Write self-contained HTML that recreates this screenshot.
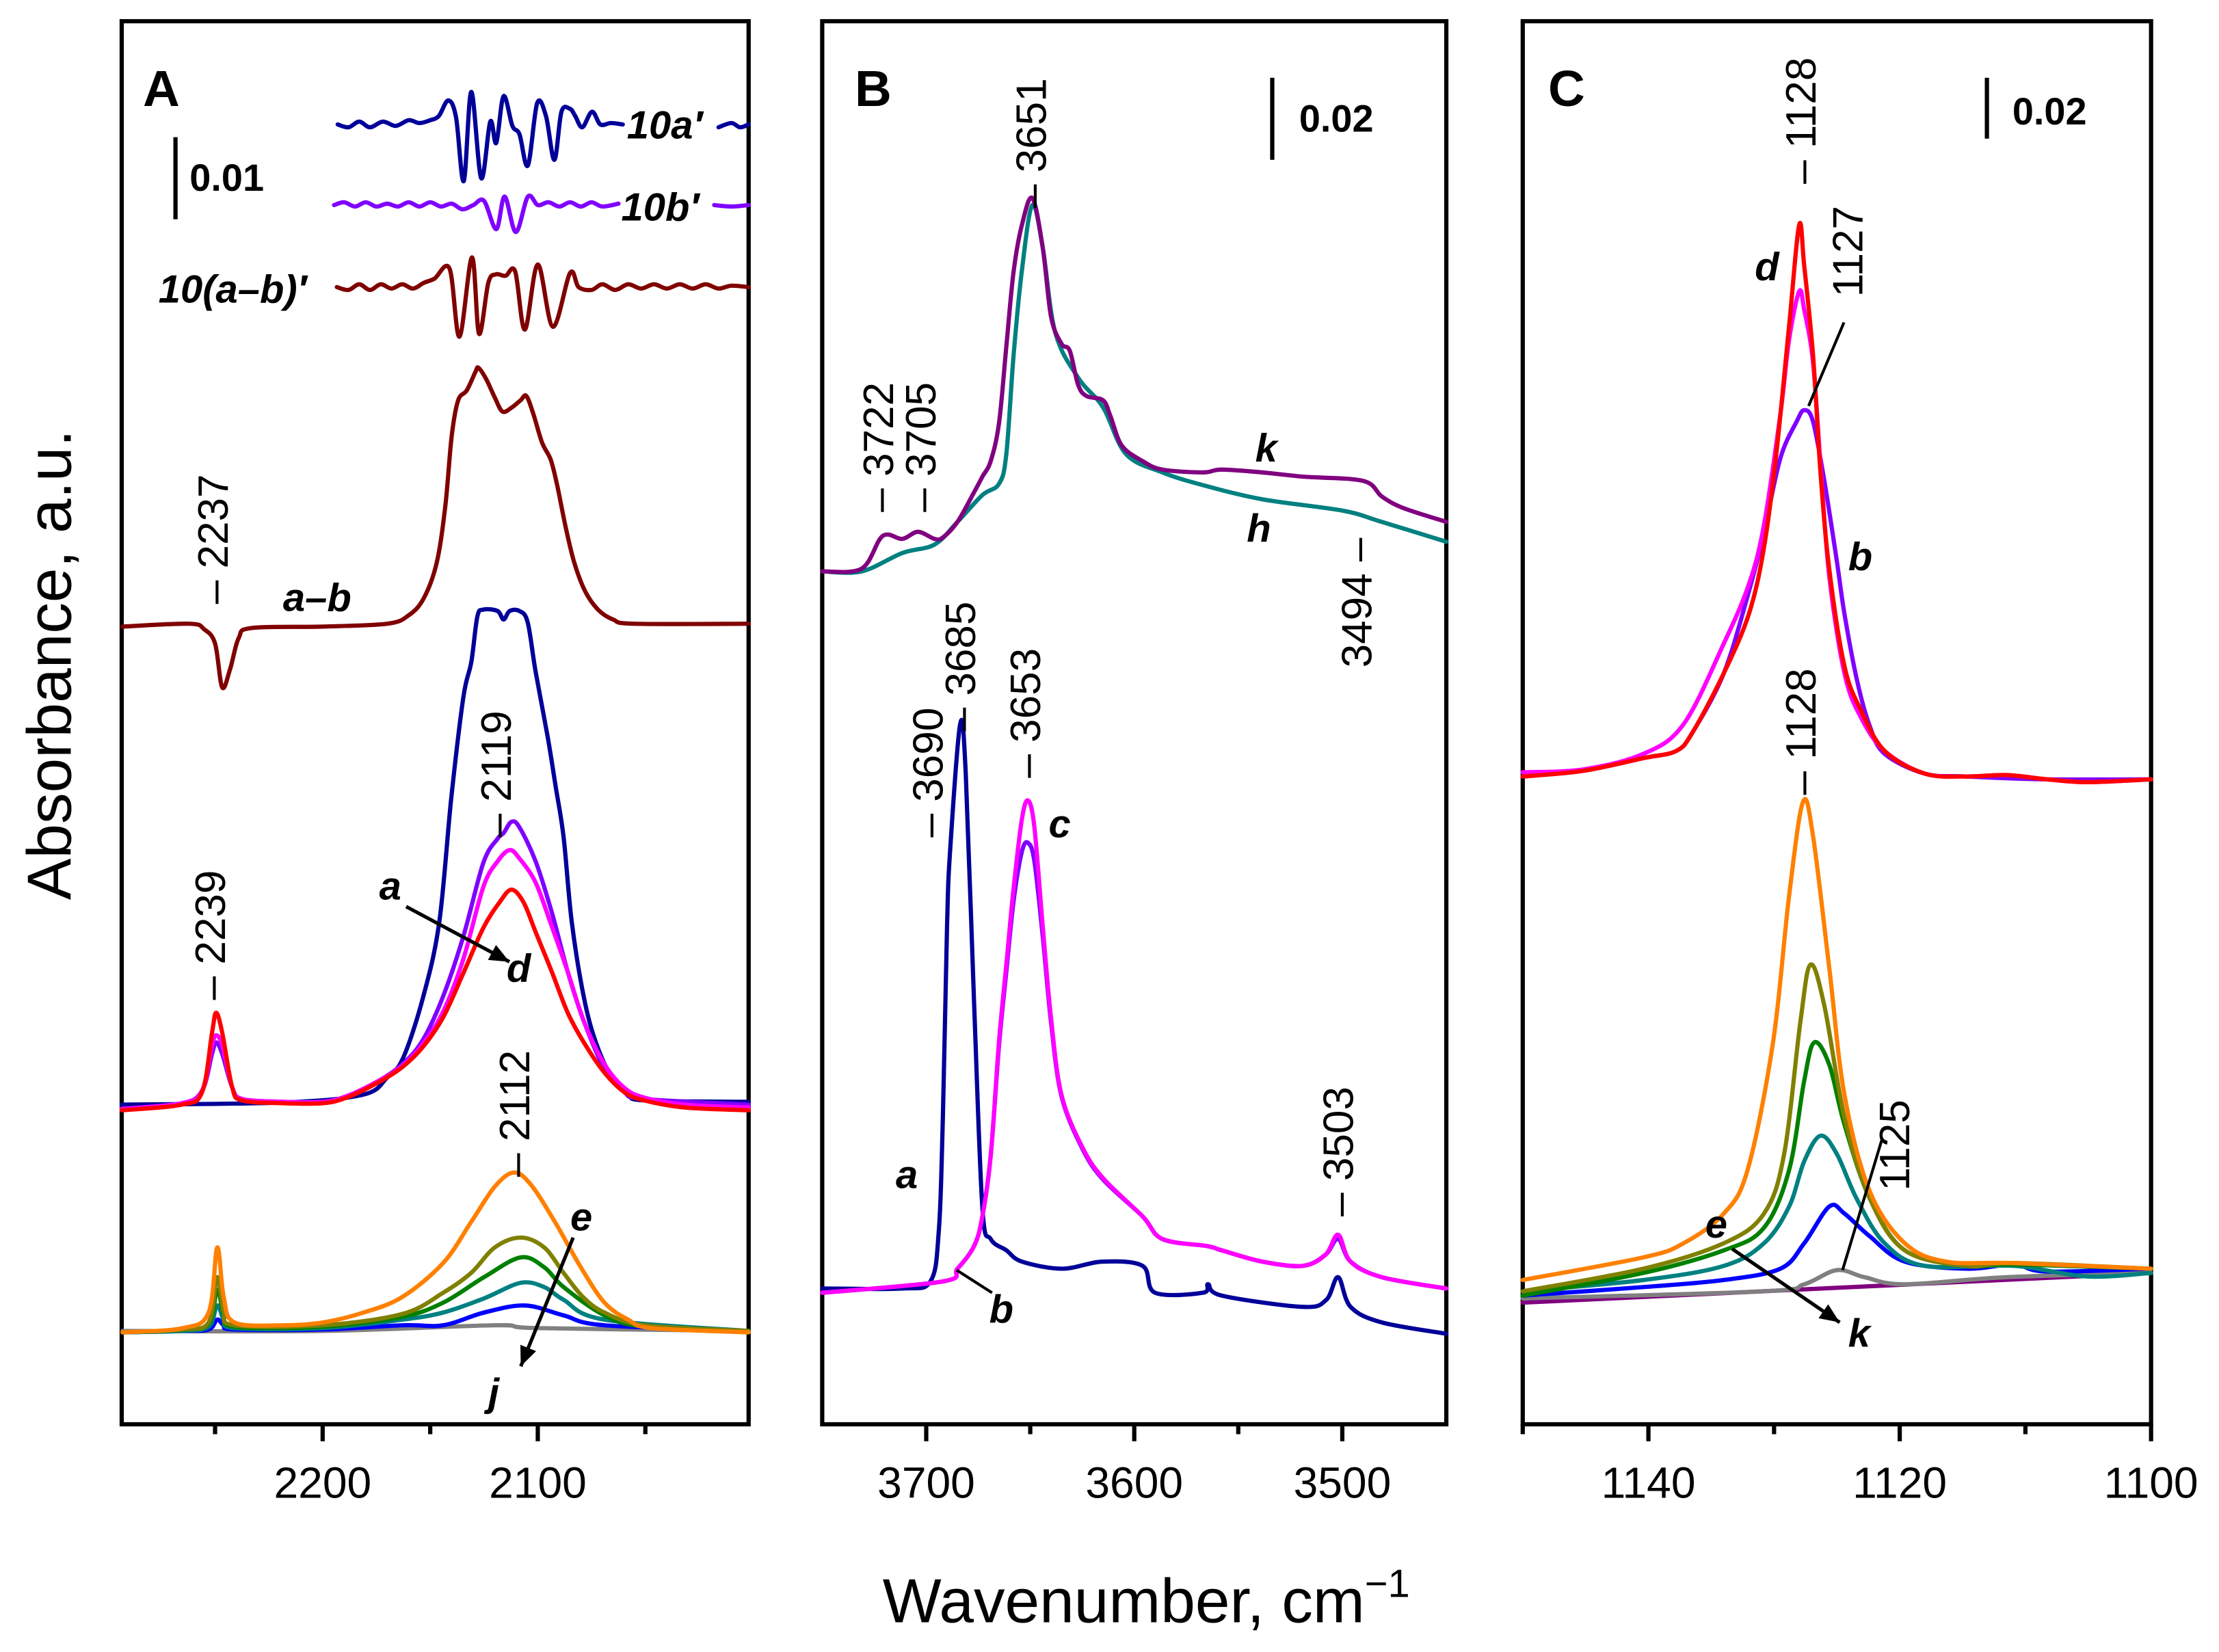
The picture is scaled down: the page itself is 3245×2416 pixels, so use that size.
<!DOCTYPE html>
<html><head><meta charset="utf-8"><style>
html,body{margin:0;padding:0;background:#fff;}
svg{display:block;}
text{font-family:"Liberation Sans",Arial,sans-serif;}
</style></head><body>
<svg id="chart" width="3245" height="2416" viewBox="0 0 1568 1168" preserveAspectRatio="none" xmlns="http://www.w3.org/2000/svg">
<g id="frames"></g><g id="series"></g><g id="annot"></g>
</svg>
<script>
// ---------- data (wavenumber, absorbance in arb. units above panel floor) ----------
const panelA_abBase = 564;
const A_ab = [[2293,0],[2262,2],[2255,-2],[2250,-12],[2246.7,-43],[2243,-30],[2239,-8],[2233,-1],[2200,0],[2170,2],[2160,8],[2153,20],[2147,45],[2143,85],[2140,135],[2137,160],[2133,167],[2129,180],[2127.6,183],[2124,175],[2120,162],[2116.4,152],[2112,155],[2108,160],[2105.3,163],[2102,150],[2098,130],[2094,118],[2091,100],[2087,70],[2083,45],[2078,25],[2072,12],[2065,5],[2055,2],[2002,2]];
const A_d10aBase = 919, A_d10bBase = 862, A_d10abBase = 804;
const A_d10a = [[2193,0],[2188,-2],[2183,2],[2178,-2],[2172,2],[2166,-1],[2160,3],[2155,1],[2150,3],[2146,6],[2141.6,17],[2138,5],[2134.4,-40],[2130.9,23],[2126.3,-38],[2122.1,2],[2119.3,-13],[2115.9,20],[2111.8,-1],[2108.5,-7],[2104.6,-29],[2100.3,15],[2096.2,6],[2092.3,-25],[2089,9],[2085,11],[2082.6,6],[2079.3,-2],[2074.8,9],[2070.9,0],[2066,1],[2060.5,0],null,[2016,-2],[2010,1],[2006,-2],[2002,0]];
const A_d10b = [[2194.7,0],[2190,2],[2185,-1],[2180,2],[2175,-1],[2170,1],[2165,-1],[2160,2],[2155,-1],[2150,2],[2145,-1],[2140,1],[2135,-3],[2130,0],[2125,3],[2119.3,-17],[2115.4,6],[2110.2,-19],[2104.6,6],[2100,0],[2095,2],[2090,-1],[2085,2],[2080,-1],[2075,2],[2070,-1],[2062.5,1],null,[2018,0],[2010,-1],[2002,0]];
const A_d10ab = [[2193.4,0],[2188,-2],[2183,2],[2178,-2],[2173,2],[2168,-1],[2163,2],[2158,-1],[2153,3],[2148,6],[2141,13],[2136.4,-35],[2130.6,21],[2127.3,-33],[2123,3],[2119.5,9],[2115,8],[2110.5,11],[2106,-30],[2100,16],[2093,-28],[2085,10],[2081,0],[2075,-2],[2070,2],[2064,-2],[2058,2],[2052,-1],[2046,2],[2040,-1],[2034,2],[2028,-1],[2022,2],[2016,-1],[2010,1],[2002,0]];
const A_a = [[2293.4,226],[2218.7,227.5],[2181.3,233],[2170.1,245],[2162.6,259],[2153.3,302],[2145.8,355],[2140.2,443],[2134.6,514],[2130.9,539],[2128.1,571],[2125.3,576],[2118.7,575],[2115.9,569],[2113.1,575],[2108.5,575],[2104.7,567],[2101,532],[2095.4,486],[2091.7,451],[2088,415],[2084.2,355],[2078.6,302],[2073,270],[2065.5,245],[2058,234],[2050.6,229],[2002,228]];
const A_b = [[2293.4,223],[2265.4,227],[2256,236],[2251.4,262],[2249.5,270],[2246.7,262],[2242,238],[2237.4,230],[2218.7,228],[2200,228],[2188.8,232],[2173.8,243],[2162.6,255],[2153.3,272],[2143.9,303],[2134.6,345],[2125.3,397],[2118.7,414],[2115.9,418],[2112.2,426],[2108.5,422],[2101,398],[2093.5,362],[2086.1,320],[2078.6,285],[2069.2,252],[2059.9,235],[2050.6,230],[2002,226]];
const A_c = [[2293.4,223],[2265.4,227],[2256,236],[2251.4,268],[2249.5,275],[2246.7,268],[2242,238],[2237.4,230],[2218.7,228],[2200,228],[2188.8,232],[2173.8,243],[2162.6,254],[2153.3,269],[2143.9,292],[2134.6,329],[2125.3,380],[2118.7,398],[2113.1,406],[2108.5,400],[2101,383],[2093.5,352],[2086.1,320],[2078.6,285],[2069.2,255],[2059.9,238],[2050.6,231],[2031.9,226],[2002,224]];
const A_d = [[2293.4,222],[2265.4,226],[2256,235],[2251.4,277],[2249.5,291],[2246.7,277],[2242,238],[2237.4,229],[2218.7,227],[2200,227],[2188.8,231],[2173.8,242],[2162.6,253],[2153.3,267],[2143.9,288],[2134.6,319],[2125.3,351],[2117.8,369],[2112.2,378],[2106.6,369],[2101,348],[2093.5,320],[2086.1,291],[2078.6,270],[2069.2,249],[2059.9,235],[2050.6,229],[2031.9,224],[2002,222]];
const A_e = [[2293,65],[2265,68],[2253,79],[2249,125],[2246,90],[2241,72],[2219,70],[2200,72],[2181,79],[2163,90],[2144,114],[2131,143],[2120,168],[2111,178],[2103,169],[2092,143],[2080,111],[2069,86],[2058,74],[2047,68],[2002,65]];
const A_f = [[2293,65],[2265,67],[2253,72],[2249,104],[2246,80],[2241,70],[2200,70],[2163,78],[2144,93],[2131,107],[2120,125],[2108,132],[2097,125],[2088,107],[2079,90],[2069,79],[2050,70],[2002,66]];
const A_g = [[2293,65],[2265,67],[2253,71],[2249,95],[2246,78],[2241,69],[2200,69],[2163,76],[2144,86],[2125,104],[2108,118],[2097,111],[2088,97],[2069,77],[2050,69],[2002,66]];
const A_h = [[2293,65],[2265,66],[2253,69],[2249,84],[2246,74],[2241,68],[2200,68],[2163,74],[2144,79],[2125,89],[2108,100],[2097,97],[2088,88],[2069,74],[2002,66]];
const A_i = [[2293,65],[2265,66],[2253,67],[2249,74],[2246,70],[2241,67],[2200,67],[2163,70],[2144,70],[2125,79],[2106,84],[2088,77],[2069,70],[2002,66]];
const A_j = [[2293,66],[2200,66],[2120,70],[2100,68],[2002,66]];

const B_k = [[3750,603],[3731,605],[3721,628],[3711.5,626],[3704,631],[3696,626],[3692,627],[3685,638],[3677,659],[3673,670],[3669,681],[3665,708],[3661.5,762],[3658,815],[3654,848],[3649,867],[3644,832],[3640,783],[3635,764],[3631,759],[3627,735],[3623,727],[3615,724],[3611.5,713],[3606,692],[3596,681],[3586.5,675],[3567,673],[3558,675],[3538.5,673],[3519,670],[3490,667],[3481,656],[3471,648],[3450,638]];
const B_h = [[3750,603],[3731,603],[3711.5,616],[3696,622],[3685,638],[3673,657],[3665,665],[3661.5,686],[3658,756],[3654,816],[3649,862],[3644,832],[3638,772],[3627,740],[3615,719],[3604,686],[3586.5,673],[3567,664],[3538.5,654],[3500,646],[3481,638],[3450,624]];
const B_a = [[3750,96],[3711.5,96],[3698,101],[3694,136],[3692,217],[3690,352],[3688.5,406],[3683.7,495],[3681,460],[3677,298],[3673,153],[3669,131],[3661.5,123],[3654,115],[3634.6,110],[3615.4,115],[3596,112],[3590,93],[3567,93],[3564.5,99],[3558,91],[3519,83],[3507.7,88],[3502,104],[3496,83],[3481,72],[3450,64]];
const B_b = [[3750,93],[3692,101],[3685,110],[3677,126],[3673,147],[3669,190],[3665,268],[3661.5,320],[3658,370],[3654,405],[3651,411],[3648,398],[3644,345],[3640,284],[3635,232],[3625,195],[3615,173],[3596,147],[3586.5,131],[3565,126],[3558,123],[3538.5,115],[3519,112],[3508,120],[3502,131],[3496,115],[3481,104],[3450,96]];
const B_c = [[3750,93],[3692,101],[3685,110],[3677,126],[3673,147],[3669,190],[3665,271],[3661.5,325],[3658,379],[3654,428],[3651,441],[3648,422],[3644,352],[3640,287],[3635,233],[3625,196],[3615,174],[3596,147],[3586.5,131],[3565,126],[3558,123],[3538.5,115],[3519,112],[3508,120],[3502,134],[3496,115],[3481,104],[3450,96]];

const C_b = [[1150,458],[1145.2,462],[1140.4,471],[1137.8,476],[1136.5,489],[1134,531],[1132,589],[1130.8,631],[1129.5,683],[1128.2,709],[1127.6,717],[1126.9,709],[1126,667],[1125,610],[1124.4,573],[1123.4,526],[1122.4,494],[1121.2,474],[1118,460],[1114.7,458],[1108.3,456],[1100,456]];
const C_c = [[1150,461],[1145.2,463],[1140.4,474],[1137.2,495],[1134,552],[1132,594],[1130.8,636],[1129.5,714],[1128.8,767],[1128,801],[1127.6,788],[1126.9,751],[1126.3,678],[1125.6,599],[1124.4,531],[1123.1,500],[1121.2,476],[1118,460],[1114.7,458],[1111.5,459],[1108.3,456],[1105.1,454],[1100,456]];
const C_d = [[1150,458],[1145.2,462],[1140.4,471],[1137.8,476],[1136.5,489],[1134,531],[1132,573],[1130.8,620],[1129.8,688],[1128.8,777],[1128,848],[1127.6,819],[1126.9,756],[1126.3,672],[1125.6,604],[1124.4,536],[1123.1,505],[1121.2,476],[1118,460],[1114.7,458],[1111.5,459],[1108.3,456],[1105.1,454],[1100,456]];
const C_e = [[1150,102],[1140.4,118],[1137.2,128],[1134,149],[1132.1,180],[1130.1,269],[1128.8,374],[1127.7,440],[1126.9,416],[1125.6,322],[1124.4,233],[1122.4,165],[1119.6,128],[1116.3,115],[1110.9,114],[1100,110]];
const C_f = [[1150,94],[1140.4,110],[1134,128],[1130.8,149],[1129.2,191],[1127.9,285],[1127.1,325],[1126,296],[1124.4,217],[1122.4,160],[1119.6,123],[1114.7,112],[1110.9,114],[1100,110]];
const C_g = [[1150,91],[1140.4,107],[1134,123],[1130.8,139],[1128.8,180],[1127.6,243],[1126.8,270],[1125.6,254],[1124.4,212],[1122.4,160],[1119.6,123],[1114.7,112],[1110.9,113],[1100,110]];
const C_h = [[1150,94],[1140.4,102],[1134,112],[1130.8,128],[1128.8,154],[1127.6,186],[1126.3,204],[1125,191],[1123.4,159],[1121.2,128],[1118,112],[1110.9,112],[1105.1,104.5],[1100,107]];
const C_i = [[1150,91],[1140.4,97],[1134,102],[1129.5,110],[1127.6,128],[1125.6,154],[1124.4,149],[1122.4,133],[1119.6,115],[1114.7,110],[1110.9,113],[1108.3,108],[1100,110]];
const C_j = [[1150,89],[1130.8,94],[1127.6,99],[1125,109],[1122.8,104],[1119.6,99],[1111.5,104],[1100,107]];
const C_k = [[1150,86],[1100,107]];

const ticksA = [2200, 2100], minorA = [2250, 2150, 2050];
const ticksB = [3700, 3600, 3500], minorB = [3650, 3550];
const ticksC = [1140, 1120, 1100], minorC = [1150, 1130, 1110];

// ---------- layout ----------
const NS = "http://www.w3.org/2000/svg";
const FLOOR = 1007, TOP = 15;
const panels = {
  A: {x0: 86, x1: 529, w0: 2293.4, w1: 2002},
  B: {x0: 581, x1: 1022, w0: 3750, w1: 3450},
  C: {x0: 1076, x1: 1520, w0: 1150, w1: 1100}
};
function xs(p, w) { const P = panels[p]; return P.x0 + (w - P.w0) / (P.w1 - P.w0) * (P.x1 - P.x0); }
function ys(v) { return FLOOR - v; }
function mk(tag, attrs, parent) {
  const e = document.createElementNS(NS, tag);
  for (const k in attrs) e.setAttribute(k, attrs[k]);
  parent.appendChild(e); return e;
}
const gF = document.getElementById('frames'), gS = document.getElementById('series'), gA = document.getElementById('annot');

function smoothPath(pts) {
  if (pts.length < 3) return pts.map((p, i) => (i ? 'L' : 'M') + p[0].toFixed(2) + ' ' + p[1].toFixed(2)).join(' ');
  let d = 'M' + pts[0][0].toFixed(2) + ' ' + pts[0][1].toFixed(2);
  const t = 0.5 / 3 * 2 * 0.5;
  for (let i = 0; i < pts.length - 1; i++) {
    const p0 = pts[Math.max(0, i - 1)], p1 = pts[i], p2 = pts[i + 1], p3 = pts[Math.min(pts.length - 1, i + 2)];
    const c1x = p1[0] + (p2[0] - p0[0]) / 6, c1y = p1[1] + (p2[1] - p0[1]) / 6;
    const c2x = p2[0] - (p3[0] - p1[0]) / 6, c2y = p2[1] - (p3[1] - p1[1]) / 6;
    d += ' C' + c1x.toFixed(2) + ' ' + c1y.toFixed(2) + ' ' + c2x.toFixed(2) + ' ' + c2y.toFixed(2) + ' ' + p2[0].toFixed(2) + ' ' + p2[1].toFixed(2);
  }
  return d;
}
function drawSeries(p, data, base, color, name) {
  const segs = [[]];
  for (const pt of data) {
    if (pt === null) { segs.push([]); continue; }
    segs[segs.length - 1].push([xs(p, pt[0]), ys(base + pt[1])]);
  }
  const d = segs.filter(s => s.length).map(smoothPath).join(' ');
  const e = mk('path', {d: d, fill: 'none', stroke: color, 'stroke-width': 3, 'stroke-linejoin': 'round', 'stroke-linecap': 'round'}, gS);
  
  
}

// frames + ticks
for (const p of ['A','B','C']) {
  const P = panels[p];
  const r = mk('rect', {x: P.x0, y: TOP, width: P.x1 - P.x0, height: FLOOR - TOP, fill: 'none', stroke: '#000', 'stroke-width': 3}, gF);
  
  
  const maj = p === 'A' ? ticksA : p === 'B' ? ticksB : ticksC;
  const mn = p === 'A' ? minorA : p === 'B' ? minorB : minorC;
  for (const t of maj) {
    const x = xs(p, t);
    const l = mk('line', {x1: x, x2: x, y1: FLOOR, y2: FLOOR + 12, stroke: '#000', 'stroke-width': 3}, gF);
    
    
    const tx = mk('text', {x: x, y: FLOOR + 52, 'font-size': 31, 'text-anchor': 'middle'}, gF);
    tx.textContent = t;
    
    
  }
  for (const t of mn) {
    const x = xs(p, t);
    const l = mk('line', {x1: x, x2: x, y1: FLOOR, y2: FLOOR + 7, stroke: '#000', 'stroke-width': 3}, gF);
    
    
  }
}

// series
drawSeries('A', A_d10a, A_d10aBase, '#000099', 'trace-10a-prime');
drawSeries('A', A_d10b, A_d10bBase, '#8000ff', 'trace-10b-prime');
drawSeries('A', A_d10ab, A_d10abBase, '#800000', 'trace-10a-b-prime');
drawSeries('A', A_ab, panelA_abBase, '#800000', 'trace-a-minus-b');
drawSeries('A', A_j, 0, '#808080', 'trace-a-j');
drawSeries('A', A_i, 0, '#0000ff', 'trace-a-i');
drawSeries('A', A_h, 0, '#008080', 'trace-a-h');
drawSeries('A', A_g, 0, '#008000', 'trace-a-g');
drawSeries('A', A_f, 0, '#808000', 'trace-a-f');
drawSeries('A', A_e, 0, '#ff8000', 'trace-a-e');
drawSeries('A', A_a, 0, '#000099', 'trace-a-a');
drawSeries('A', A_b, 0, '#8000ff', 'trace-a-b');
drawSeries('A', A_c, 0, '#ff00ff', 'trace-a-c');
drawSeries('A', A_d, 0, '#ff0000', 'trace-a-d');
drawSeries('B', B_h, 0, '#008080', 'trace-b-h');
drawSeries('B', B_k, 0, '#800080', 'trace-b-k');
drawSeries('B', B_a, 0, '#000099', 'trace-b-a');
drawSeries('B', B_b, 0, '#8000ff', 'trace-b-b');
drawSeries('B', B_c, 0, '#ff00ff', 'trace-b-c');
drawSeries('C', C_b, 0, '#8000ff', 'trace-c-b');
drawSeries('C', C_c, 0, '#ff00ff', 'trace-c-c');
drawSeries('C', C_d, 0, '#ff0000', 'trace-c-d');
drawSeries('C', C_k, 0, '#800080', 'trace-c-k');
drawSeries('C', C_j, 0, '#808080', 'trace-c-j');
drawSeries('C', C_i, 0, '#0000ff', 'trace-c-i');
drawSeries('C', C_h, 0, '#008080', 'trace-c-h');
drawSeries('C', C_g, 0, '#008000', 'trace-c-g');
drawSeries('C', C_f, 0, '#808000', 'trace-c-f');
drawSeries('C', C_e, 0, '#ff8000', 'trace-c-e');
</script>
<script>
// annotations (static positions)
(function(){
const NS="http://www.w3.org/2000/svg", g=document.getElementById('annot');
function t(x,y,s,str,opts,name){const e=document.createElementNS(NS,'text');e.setAttribute('x',x);e.setAttribute('y',y);e.setAttribute('font-size',s);
 if(opts&&opts.b)e.setAttribute('font-weight','bold');if(opts&&opts.i)e.setAttribute('font-style','italic');
 if(opts&&opts.a)e.setAttribute('text-anchor',opts.a);if(opts&&opts.r)e.setAttribute('transform','rotate(-90 '+x+' '+y+')');
 e.textContent=str;g.appendChild(e);return e;}
function ln(x1,y1,x2,y2,w,name,arrow){const e=document.createElementNS(NS,'line');e.setAttribute('x1',x1);e.setAttribute('y1',y1);e.setAttribute('x2',x2);e.setAttribute('y2',y2);e.setAttribute('stroke','#000');e.setAttribute('stroke-width',w);
 g.appendChild(e);
 if(arrow){const a=Math.atan2(y2-y1,x2-x1),L=14,W=6;const p=document.createElementNS(NS,'polygon');
  const bx=x2-L*Math.cos(a),by=y2-L*Math.sin(a);
  p.setAttribute('points',x2+','+y2+' '+(bx+W*Math.sin(a))+','+(by-W*Math.cos(a))+' '+(bx-W*Math.sin(a))+','+(by+W*Math.cos(a)));
  p.setAttribute('fill','#000');g.appendChild(p);}}
t(101,75,36,'A',{b:1},'panel-a-label');t(604,75,36,'B',{b:1},'panel-b-label');t(1094,75,36,'C',{b:1},'panel-c-label');
ln(124,97,124,155,3,'scale-bar-a');t(134,135,27,'0.01',{b:1},'scale-bar-a-label');
ln(899,55,899,113,3,'scale-bar-b');t(918,93,27,'0.02',{b:1},'scale-bar-b-label');
ln(1404,55,1404,98,3,'scale-bar-c');t(1422,88,27,'0.02',{b:1},'scale-bar-c-label');
t(443,98,28,"10a′",{b:1,i:1},'label-10a-prime');t(439,156,28,"10b′",{b:1,i:1},'label-10b-prime');t(112,214,28,"10(a–b)′",{b:1,i:1},'label-10a-b-prime');
t(200,432,28,'a–b',{b:1,i:1},'label-a-minus-b');
t(268,636,28,'a',{b:1,i:1},'label-a');t(358,694,28,'d',{b:1,i:1},'label-d');ln(287,641,360,680,2.5,'arrow-a-d',1);
t(403,870,28,'e',{b:1,i:1},'label-e');t(345,994,28,'j',{b:1,i:1},'label-j');ln(405,875,368,966,2.5,'arrow-e-j',1);
t(887,326,28,'k',{b:1,i:1},'label-k');t(881,383,28,'h',{b:1,i:1},'label-h');
t(633,840,28,'a',{b:1,i:1},'label-b-a');t(741,592,28,'c',{b:1,i:1},'label-b-c');t(699,935,28,'b',{b:1,i:1},'label-b-b');ln(676,898,701,914,2,'leader-b');
t(1240,198,28,'d',{b:1,i:1},'label-c-d');t(1306,403,28,'b',{b:1,i:1},'label-c-b');
t(1205,875,28,'e',{b:1,i:1},'label-c-e');t(1306,952,28,'k',{b:1,i:1},'label-c-k');ln(1224,883,1300,935,2.5,'arrow-e-k',1);
ln(1303,228,1278,287,2,'leader-1127');ln(1330,805,1302,898,2,'leader-1125');
const R=[[161,427,'– 2237'],[159,707,'– 2239'],[361,592,'– 2119'],[374,832,'– 2112'],
 [739,147,'– 3651'],[631,362,'– 3722'],[661,362,'– 3705'],[689,517,'– 3685'],[666,592,'– 3690'],[735,550,'– 3653'],[969,472,'3494 –'],[956,860,'– 3503'],
 [1283,130,'– 1128'],[1316,210,'1127'],[1283,562,'– 1128'],[1349,842,'1125']];
for(const r of R){t(r[0],r[1],30,r[2],{r:1},'peak-label-'+r[2].replace(/[^0-9]/g,''));}
const xt=t(810,1147,44,'Wavenumber, cm',{a:'middle'},'x-axis-title');
const sp=document.createElementNS(NS,'tspan');sp.setAttribute('font-size',28);sp.setAttribute('dy',-18);sp.textContent='−1';xt.appendChild(sp);
t(50,470,44,'Absorbance, a.u.',{a:'middle',r:1},'y-axis-title');
})();
</script>
</body></html>
